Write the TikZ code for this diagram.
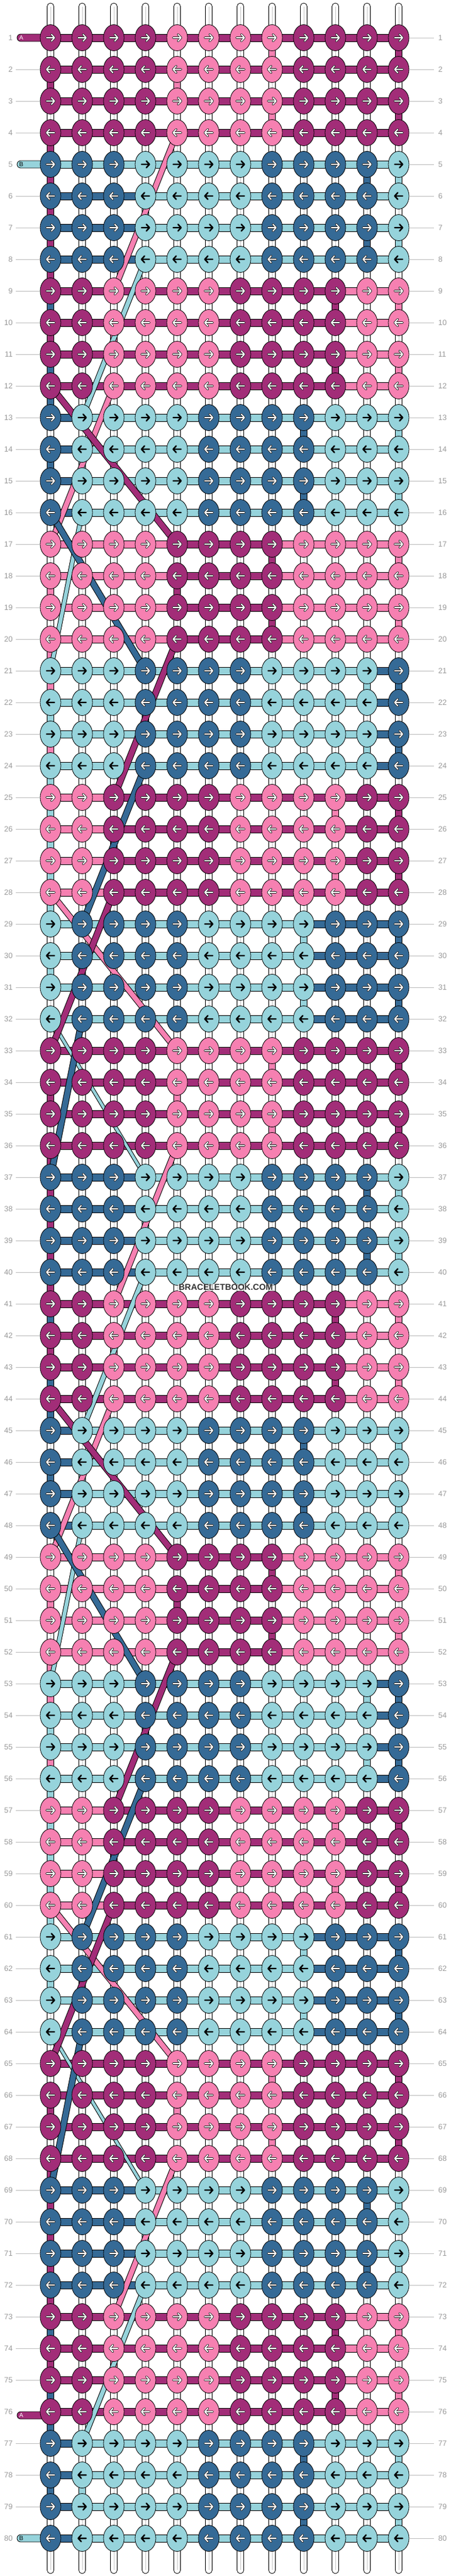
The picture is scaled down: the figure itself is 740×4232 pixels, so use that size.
\documentclass[tikz,border=0pt]{standalone}
\usepackage{fontspec}
\setmainfont{Liberation Sans}
\usetikzlibrary{shapes.geometric}
\definecolor{cM}{HTML}{A22D78}
\definecolor{cP}{HTML}{F680B1}
\definecolor{cD}{HTML}{356A96}
\definecolor{cL}{HTML}{96D3DB}
\definecolor{labgray}{HTML}{9A9A9A}
\definecolor{linegray}{HTML}{BDBDBD}
% knot colours per block type
\def\kA{M,M,M,M,P,P,P,P,M,M,M,M}
\def\kB{D,D,D,L,L,L,L,D,D,D,D,L}
\def\kC{M,M,P,P,P,P,M,M,M,M,P,P}
\def\kD{D,L,L,L,L,D,D,D,D,L,L,L}
\def\kE{P,P,P,P,M,M,M,M,P,P,P,P}
\def\kF{L,L,L,D,D,D,D,L,L,L,L,D}
\def\kG{P,P,M,M,M,M,P,P,P,P,M,M}
\def\kH{L,D,D,D,D,L,L,L,L,D,D,D}
% bar colours per block type
\def\bA{M,M,M,M,M,M,M,M,M,M,M}
\def\bB{D,D,D,L,L,L,L,L,L,L,L}
\def\bC{M,M,M,M,M,M,M,M,M,P,P}
\def\bD{D,L,L,L,L,L,L,L,L,L,L}
\def\bE{P,P,P,P,M,M,M,P,P,P,P}
\def\bF{L,L,L,L,L,L,L,L,L,L,D}
\def\bG{P,P,M,M,M,M,M,M,M,M,M}
\def\bH{L,L,L,L,L,L,L,L,D,D,D}
\def\bZ{L,L,L,L,L,L,L,L,L,L,L}
\def\Ltest{L}
\newcommand\picklists{\ifcase\bt\relax
 \let\klist\kA\let\blist\bA\or
 \let\klist\kB\let\blist\bB\or
 \let\klist\kC\let\blist\bC\or
 \let\klist\kD\let\blist\bD\or
 \let\klist\kE\let\blist\bE\or
 \let\klist\kF\let\blist\bF\or
 \let\klist\kG\let\blist\bG\or
 \let\klist\kH\let\blist\bH\fi}
\newcommand\vs[2]{\draw[seg,fill=c#2] ({83+52*(#1-1)-5.5},\yy) rectangle ({83+52*(#1-1)+5.5},\yy+52);}
\newcommand\pairgap{\ifcase\bt\relax
 \vs8P\vs{12}M\or
 \vs1M\vs{11}D\vs{12}L\or
 \vs1D\vs{10}M\vs{12}P\or
 \vs9D\vs{12}L\or
 \vs8M\vs{12}P\or
 \vs1P\vs{11}L\vs{12}D\or
 \vs1L\vs{10}P\vs{12}M\or
 \vs9L\vs{12}D\fi}
\newcommand\midgap{\ifcase\bt\relax
 \vs1M\vs5P\or
 \vs1M\vs4L\or
 \vs1M\vs3P\or
 \vs1D\vs2L\or
 \vs1P\vs5M\or
 \vs1L\vs4D\or
 \vs1L\vs3M\or
 \vs1L\vs2D\fi}
\newcommand\aftergap{\ifcase\bt\relax
 \vs1M\or \vs1M\or \vs1D\or \relax\or \vs1P\or \vs1L\or \vs1L\or \relax\fi}
\newcommand\diag[7]{%
 \draw[black,line width=#7pt] (p-#1-#2) -- (p-#3-#4);
 \draw[c#5,line width=#6pt] (p-#1-#2) -- (p-#3-#4);}
\begin{document}
\begin{tikzpicture}[x=1pt,y=-1pt,
  knot/.style={ellipse,draw=black,line width=0.8pt,minimum width=34pt,minimum height=43pt,inner sep=0pt},
  seg/.style={draw=black,line width=0.8pt},
  lab/.style={text=labgray,font=\fontsize{12.5}{12.5}\selectfont,inner sep=0pt},
  labline/.style={draw=linegray,line width=0.9pt},
  arout/.style={draw=black!85,line width=3.6pt,line cap=round,line join=round},
  arin/.style={line width=1.9pt,line cap=round,line join=round}]
\useasboundingbox (0,0) rectangle (740,4232);
\fill[white] (0,0) rectangle (740,4232);
% grid coordinates
\foreach \r in {1,...,80}{\foreach \j in {1,...,12}{%
  \coordinate (p-\r-\j) at ({83+52*(\j-1)},{62+52*(\r-1)});}}
% thread stubs top and bottom
\foreach \j in {1,...,12}{%
  \pgfmathsetmacro\xx{83+52*(\j-1)}
  \draw[seg,fill=white,rounded corners=5.5pt] (\xx-5.5,5) rectangle (\xx+5.5,62);
  \draw[gray!45,line width=0.8pt] (\xx,11) -- (\xx,45);
  \draw[seg,fill=white,rounded corners=5.5pt] (\xx-5.5,4170) rectangle (\xx+5.5,4228);
  \draw[gray!45,line width=0.8pt] (\xx,4188) -- (\xx,4222);
}
% vertical segments between rows
\foreach \r in {1,...,79}{%
  \pgfmathtruncatemacro\bt{mod(floor((\r-1)/4),8)}
  \pgfmathtruncatemacro\gp{mod(\r-1,4)}
  \pgfmathsetmacro\yy{62+52*(\r-1)}
  \foreach \j in {1,...,12}{%
    \pgfmathsetmacro\xx{83+52*(\j-1)}
    \draw[seg,fill=white] (\xx-5.5,\yy) rectangle (\xx+5.5,\yy+52);
    \draw[gray!45,line width=0.8pt] (\xx,\yy) -- (\xx,\yy+52);}
  \ifcase\gp\relax \pairgap\or\midgap\or\pairgap\or\aftergap\fi
}
% horizontal bars
\foreach \r in {1,...,80}{%
  \pgfmathtruncatemacro\bt{mod(floor((\r-1)/4),8)}
  \pgfmathsetmacro\yy{62+52*(\r-1)}
  \picklists
  \ifnum\r=5 \let\blist\bZ\fi
  \foreach \kc [count=\j] in \blist {%
    \draw[seg,fill=c\kc] ({83+52*(\j-1)},\yy-6) rectangle ({135+52*(\j-1)},\yy+6);}
}
% start tabs
\draw[seg,fill=cM,rounded corners=6pt] (28,56) rectangle (83,68);
\draw[seg,fill=cL,rounded corners=6pt] (28,264) rectangle (83,276);
\draw[seg,fill=cM,rounded corners=6pt] (28,3962) rectangle (83,3974);
\draw[seg,fill=cL,rounded corners=6pt] (28,4164) rectangle (83,4176);
\node[text=white,font=\fontsize{10}{10}\selectfont,inner sep=0pt] (tabA1) at (35,62) {A};
\node[text=black,font=\fontsize{10}{10}\selectfont,inner sep=0pt] (tabB5) at (35,270) {B};
\node[text=white,font=\fontsize{10}{10}\selectfont,inner sep=0pt] (tabA76) at (35,3968) {A};
\node[text=black,font=\fontsize{10}{10}\selectfont,inner sep=0pt] (tabB80) at (35,4170) {B};
% travelling threads
\diag{4}{5}{9}{3}{P}{8}{10}
\diag{12}{3}{17}{1}{P}{8}{10}
\diag{28}{1}{33}{5}{P}{8}{10}
\diag{36}{5}{41}{3}{P}{8}{10}
\diag{44}{3}{49}{1}{P}{8}{10}
\diag{60}{1}{65}{5}{P}{8}{10}
\diag{68}{5}{73}{3}{P}{8}{10}
\diag{8}{4}{13}{2}{L}{7}{9}
\diag{16}{2}{21}{1}{L}{6}{8}
\diag{32}{1}{37}{4}{L}{4.5}{6.5}
\diag{40}{4}{45}{2}{L}{7}{9}
\diag{48}{2}{53}{1}{L}{6}{8}
\diag{64}{1}{69}{4}{L}{4.5}{6.5}
\diag{72}{4}{77}{2}{L}{7}{9}
\diag{12}{1}{17}{5}{M}{9}{11}
\diag{20}{5}{25}{3}{M}{9}{11}
\diag{28}{3}{33}{1}{M}{9}{11}
\diag{44}{1}{49}{5}{M}{9}{11}
\diag{52}{5}{57}{3}{M}{9}{11}
\diag{60}{3}{65}{1}{M}{9}{11}
\diag{16}{1}{21}{4}{D}{9}{11}
\diag{24}{4}{29}{2}{D}{9}{11}
\diag{32}{2}{37}{1}{D}{9}{11}
\diag{48}{1}{53}{4}{D}{9}{11}
\diag{56}{4}{61}{2}{D}{9}{11}
\diag{64}{2}{69}{1}{D}{9}{11}
% knots with arrows
\foreach \r in {1,...,80}{%
  \pgfmathtruncatemacro\bt{mod(floor((\r-1)/4),8)}
  \pgfmathsetmacro\yy{62+52*(\r-1)}
  \pgfmathsetmacro\ya{\yy-5.5}
  \pgfmathsetmacro\yb{\yy+5.5}
  \picklists
  \ifodd\r \def\dd{1}\else\def\dd{(-1)}\fi
  \foreach \kc [count=\j] in \klist {%
    \pgfmathsetmacro\xx{83+52*(\j-1)}
    \pgfmathsetmacro\xs{\xx-6.5*\dd}
    \pgfmathsetmacro\xe{\xx+6.5*\dd}
    \pgfmathsetmacro\xh{\xx+1.5*\dd}
    \node[knot,fill=c\kc] (k-\r-\j) at (p-\r-\j) {};
    \ifx\kc\Ltest
      \draw[arin,black,line width=2.4pt] (\xs,\yy) -- (\xe,\yy)
        (\xh,\ya) -- (\xe,\yy) -- (\xh,\yb);
    \else
      \draw[arout] (\xs,\yy) -- (\xe,\yy) (\xh,\ya) -- (\xe,\yy) -- (\xh,\yb);
      \draw[arin,white] (\xs,\yy) -- (\xe,\yy) (\xh,\ya) -- (\xe,\yy) -- (\xh,\yb);
    \fi}
}
% row labels
\foreach \r in {1,...,80}{%
  \pgfmathsetmacro\yy{62+52*(\r-1)}
  \node[lab,anchor=east] (ll-\r) at (21,\yy) {\r};
  \node[lab,anchor=west] (rl-\r) at (720,\yy) {\r};
  \draw[labline] (672,\yy) -- (713,\yy);
  \ifnum\r=1 \else\ifnum\r=5 \else\ifnum\r=76 \else\ifnum\r=80 \else
    \draw[labline] (26,\yy) -- (66,\yy);
  \fi\fi\fi\fi
}
\node[font=\bfseries\fontsize{14}{14}\selectfont,text=black!80,fill=white,fill opacity=0.55,text opacity=1,inner sep=1.5pt] (wm) at (371,2115) {BRACELETBOOK.COM};
\end{tikzpicture}
\end{document}
